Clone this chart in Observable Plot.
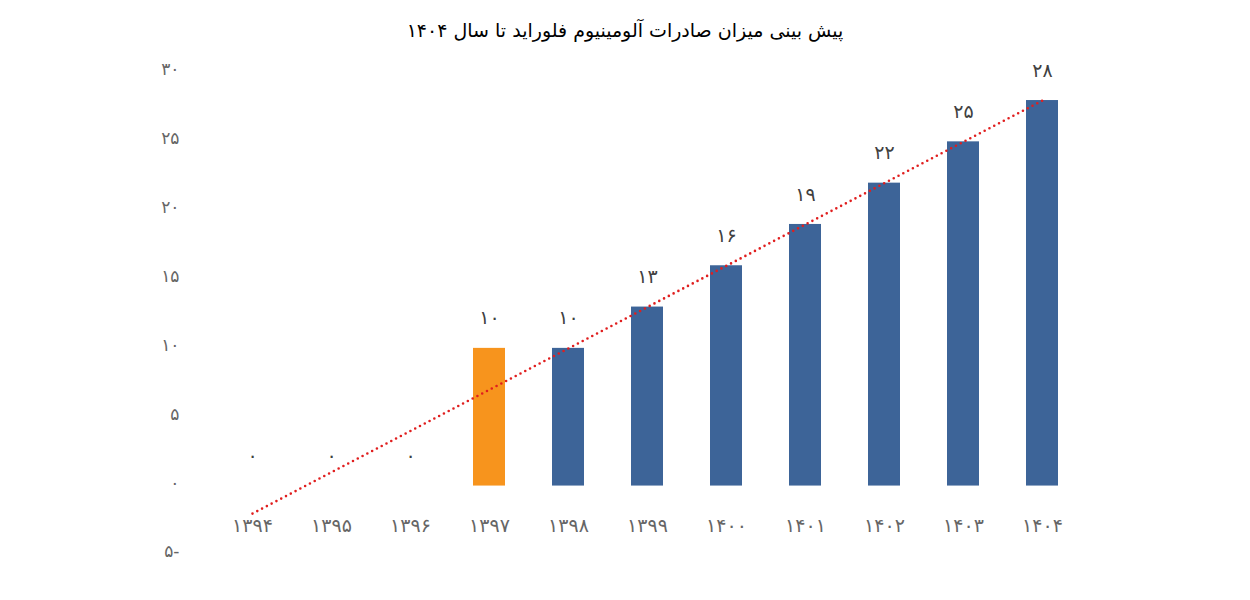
<!DOCTYPE html>
<html>
<head>
<meta charset="utf-8">
<script src="https://cdn.jsdelivr.net/npm/d3@7"></script>
<script src="https://cdn.jsdelivr.net/npm/@observablehq/plot@0.6"></script>
<style>
  html, body { margin: 0; padding: 0; background: #fff; }
  #title { height: 48px; line-height: 60px; text-align: center; font-family: "DejaVu Sans", sans-serif; font-size: 19px; color: #000; direction: rtl; }
  #chart svg { display: block; }
</style>
</head>
<body>
<div id="title">پیش بینی میزان صادرات آلومینیوم فلوراید تا سال ۱۴۰۴</div>
<div id="chart"></div>
<script>
const years = ["1394","1395","1396","1397","1398","1399","1400","1401","1402","1403","1404"];
const values = [0, 0, 0, 10, 10, 13, 16, 19, 22, 25, 28];
const yTicks = [-5, 0, 5, 10, 15, 20, 25, 30];
const highlightYear = "1397";

const fa = s => String(s).replace(/\d/g, d => "۰۱۲۳۴۵۶۷۸۹"[d]);
const faTick = v => v < 0 ? fa(-v) + "-" : fa(v);

const data = years.map((year, i) => ({year, value: values[i], i}));

// least-squares trend line (as drawn by the spreadsheet's linear trendline)
const mx = d3.mean(data, d => d.i), my = d3.mean(data, d => d.value);
const slope = d3.sum(data, d => (d.i - mx) * (d.value - my)) / d3.sum(data, d => (d.i - mx) ** 2);
const intercept = my - slope * mx;
const trend = data.map(d => ({year: d.year, value: intercept + slope * d.i}));

const BLUE = "#3d6498", ORANGE = "#f7941d";

const chart = Plot.plot({
  width: 1250,
  height: 552,
  marginTop: 24.5,
  marginBottom: 45.6,
  marginLeft: 210,
  marginRight: 166,
  style: {fontFamily: "DejaVu Sans, sans-serif", background: "#fff"},
  x: {domain: years, paddingInner: 0.6, paddingOuter: 0.3, label: null},
  y: {domain: [-5, 30], label: null},
  marks: [
    Plot.axisY({ticks: yTicks, tickFormat: faTick, tickSize: 0, tickPadding: 31, fontSize: 17, color: "#666666", dy: -3, label: null}),
    Plot.axisX({tickFormat: fa, tickSize: 0, fontSize: 19, color: "#666666", dy: -45, label: null}),
    Plot.barY(data, {x: "year", y: "value", fill: d => d.year === highlightYear ? ORANGE : BLUE}),
    Plot.text(data, {x: "year", y: "value", text: d => fa(d.value), dy: -30, fontSize: 19, fill: "#404040"}),
    Plot.line(trend, {x: "year", y: "value", stroke: "#e01e1e", strokeWidth: 2.6, strokeDasharray: "0 5.4", strokeLinecap: "round"})
  ]
});
document.getElementById("chart").appendChild(chart);
</script>
</body>
</html>
